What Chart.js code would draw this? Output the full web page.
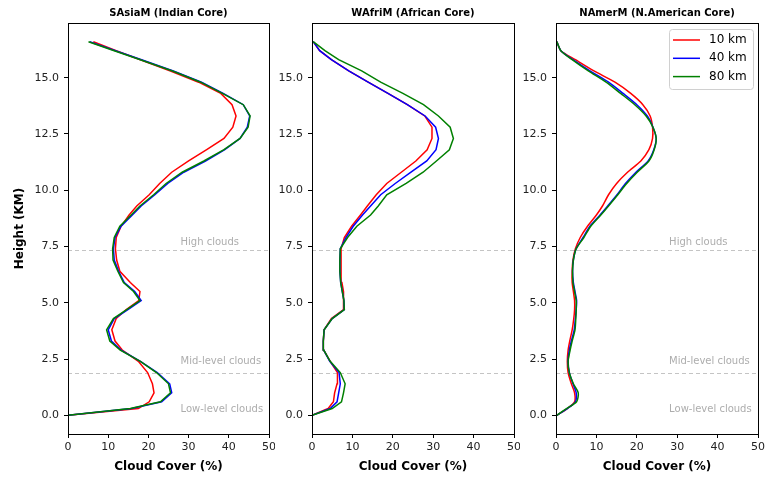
<!DOCTYPE html>
<html>
<head>
<meta charset="utf-8">
<script src="https://cdn.jsdelivr.net/npm/chart.js@4"></script>
<style>
  body { margin: 0; background: #fff; }
  .panel { position: absolute; top: 0; height: 479px; }
</style>
</head>
<body>
<div class="panel" style="left:0;width:275px"><canvas id="c1"></canvas></div>
<div class="panel" style="left:270px;width:250px"><canvas id="c2"></canvas></div>
<div class="panel" style="left:514px;width:251px"><canvas id="c3"></canvas></div>
<script>
// heights (km) shared by every profile
const heights = [0, 0.3, 0.6, 1.0, 1.4, 1.9, 2.4, 2.9, 3.3, 3.8, 4.3, 4.7, 5.1, 5.5, 5.9, 6.4, 6.9, 7.4, 7.9, 8.4,
  8.9, 9.3, 9.8, 10.3, 10.8, 11.3, 11.8, 12.3, 12.8, 13.3, 13.8, 14.3, 14.8, 15.3, 15.8, 16.2, 16.6];

const seriesNames = ['10 km', '40 km', '80 km'];

// SAsiaM (Indian Core)
const sasiaRed = [0, 17.5, 20.2, 21.4, 21.0, 19.8, 17.5, 13.5, 11.7, 10.9, 12.0, 14.5, 17.6, 17.9, 15.5, 12.9, 12.1, 11.8, 12.0, 13.2,
  15.2, 17.1, 20.2, 22.8, 25.8, 30.0, 34.5, 38.8, 41.0, 41.8, 40.8, 38.0, 32.5, 25.5, 18.0, 12.0, 6.3];
const sasiaBlue = [0, 15.8, 23.3, 25.8, 25.3, 22.2, 18.0, 13.2, 10.8, 10.0, 11.5, 14.9, 18.2, 16.6, 14.0, 12.6, 11.5, 11.3, 11.7, 13.2,
  16.0, 18.2, 21.6, 24.8, 28.8, 34.2, 39.0, 42.8, 44.6, 45.2, 43.6, 38.6, 33.2, 26.2, 18.3, 11.8, 5.4];
const sasiaGreen = [0, 15.5, 23.0, 25.5, 25.0, 22.0, 18.0, 13.0, 10.4, 9.6, 11.3, 14.6, 17.9, 16.3, 13.8, 12.4, 11.2, 11.1, 11.5, 12.9,
  15.7, 17.9, 21.3, 24.4, 28.4, 33.8, 38.8, 42.8, 44.8, 45.3, 43.6, 38.4, 33.0, 26.0, 18.0, 11.5, 5.1];

// WAfriM (African Core)
const wafriRed = [0, 4.0, 5.3, 5.6, 6.2, 6.3, 4.5, 2.9, 2.8, 3.0, 4.8, 7.8, 7.9, 7.7, 7.4, 7.2, 7.2, 7.2, 8.0, 9.8,
  12.0, 13.7, 15.9, 18.5, 22.1, 25.7, 28.5, 29.7, 29.7, 27.9, 23.6, 18.8, 13.9, 9.1, 4.8, 1.9, 0.3];
const wafriBlue = [0, 4.5, 6.2, 6.6, 7.0, 6.7, 4.4, 2.9, 2.8, 3.0, 5.0, 8.0, 7.9, 7.5, 7.1, 6.9, 6.9, 7.0, 8.4, 10.2,
  12.5, 14.5, 17.0, 20.6, 24.5, 28.4, 30.7, 31.3, 30.6, 28.0, 23.6, 18.8, 13.9, 9.1, 4.8, 1.9, 0.3];
const wafriGreen = [0, 5.0, 7.3, 7.8, 8.2, 7.0, 4.5, 2.9, 2.8, 3.0, 5.0, 8.0, 7.9, 7.5, 7.1, 6.9, 6.9, 7.0, 8.8, 11.1,
  14.5, 16.4, 18.5, 23.3, 27.5, 30.8, 34.0, 35.0, 34.2, 31.3, 27.6, 22.5, 17.0, 12.3, 6.6, 3.2, 0.3];

// NAmerM (N.American Core)
const namerRed = [0.2, 2.8, 4.6, 4.6, 3.8, 3.0, 2.8, 3.0, 3.4, 4.0, 4.4, 4.6, 4.6, 4.3, 4.0, 4.0, 4.2, 4.8, 6.0, 7.8,
  10.0, 11.5, 13.0, 15.0, 17.7, 21.0, 23.0, 23.9, 23.9, 23.3, 21.5, 18.5, 14.6, 9.4, 4.8, 1.2, 0.2];
const namerBlue = [0.2, 2.8, 4.8, 5.0, 4.2, 3.3, 3.0, 3.3, 3.8, 4.5, 4.8, 5.0, 5.1, 4.7, 4.3, 4.1, 4.3, 5.0, 6.7, 8.4,
  10.9, 12.8, 15.1, 17.2, 19.8, 22.8, 24.2, 24.8, 24.0, 22.6, 20.0, 16.6, 13.0, 8.4, 4.2, 1.2, 0.2];
const namerGreen = [0.2, 2.6, 5.1, 5.5, 4.3, 3.3, 3.0, 3.5, 4.0, 4.7, 4.9, 5.0, 5.0, 4.6, 4.2, 4.1, 4.3, 5.0, 6.9, 8.6,
  11.1, 13.0, 15.3, 17.5, 20.1, 23.0, 24.3, 24.8, 24.0, 22.3, 19.5, 16.0, 12.4, 8.0, 4.0, 1.2, 0.2];

// cloud layer boundaries and their labels
const layerBounds = [7.35, 1.9];
const layerLabels = ['High clouds', 'Mid-level clouds', 'Low-level clouds'];
const layerLabelHeights = [7.7, 2.4, 0.27];
const layerLabelX = 28;

const xTicks = { min: 0, max: 50, step: 10 };
const yRange = { min: -0.83, max: 17.43, step: 2.5 };

const colors = ['#ff0000', '#0000ff', '#008000'];
const tickFont = { family: 'DejaVu Sans', size: 11 };
const labelFont = { family: 'DejaVu Sans', size: 12, weight: 'bold' };

const panelDecor = {
  id: 'panelDecor',
  beforeDatasetsDraw(chart) {
    const { ctx, chartArea: a, scales: { x, y } } = chart;
    ctx.save();
    ctx.strokeStyle = '#c4c4c4';
    ctx.lineWidth = 1;
    ctx.setLineDash([4, 3]);
    layerBounds.forEach(h => {
      const py = Math.round(y.getPixelForValue(h)) + 0.5;
      ctx.beginPath();
      ctx.moveTo(a.left, py);
      ctx.lineTo(a.right, py);
      ctx.stroke();
    });
    ctx.setLineDash([]);
    if (chart.options.plugins.panelDecor.cloudLabels) {
      ctx.fillStyle = '#adadad';
      ctx.font = '10px "DejaVu Sans"';
      ctx.textBaseline = 'middle';
      ctx.textAlign = 'left';
      layerLabels.forEach((t, i) => {
        ctx.fillText(t, x.getPixelForValue(layerLabelX), y.getPixelForValue(layerLabelHeights[i]));
      });
    }
    ctx.restore();
  },
  afterDraw(chart, args, opts) {
    const { ctx, chartArea: a } = chart;
    ctx.save();
    ctx.strokeStyle = '#000';
    ctx.lineWidth = 1;
    ctx.strokeRect(Math.round(a.left) + 0.5, Math.round(a.top) + 0.5,
      Math.round(a.right - a.left), Math.round(a.bottom - a.top));
    // title
    ctx.fillStyle = '#000';
    ctx.font = 'bold 10px "DejaVu Sans"';
    ctx.textAlign = 'center';
    ctx.textBaseline = 'middle';
    ctx.fillText(opts.title, (a.left + a.right) / 2, 13);
    // legend inside the axes
    if (opts.legend) {
      const bx = a.right - 89, by = a.top + 6, bw = 84, bh = 60;
      ctx.fillStyle = 'rgba(255,255,255,0.8)';
      ctx.strokeStyle = '#d0d0d0';
      ctx.beginPath();
      ctx.roundRect(bx + 0.5, by + 0.5, bw, bh, 3);
      ctx.fill();
      ctx.stroke();
      ctx.font = '12px "DejaVu Sans"';
      ctx.textAlign = 'left';
      chart.data.datasets.forEach((ds, i) => {
        const ry = by + 11 + i * 18.3;
        ctx.strokeStyle = ds.borderColor;
        ctx.lineWidth = 1.5;
        ctx.beginPath();
        ctx.moveTo(bx + 4, ry);
        ctx.lineTo(bx + 31, ry);
        ctx.stroke();
        ctx.fillStyle = '#000';
        ctx.fillText(ds.label, bx + 40, ry);
      });
    }
    ctx.restore();
  }
};

function makePanel(id, title, series, opts) {
  const datasets = series.map((vals, i) => ({
    label: seriesNames[i],
    data: heights.map((h, j) => ({ x: vals[j], y: h })),
    borderColor: colors[i],
    backgroundColor: colors[i],
    borderWidth: 1.5,
    pointRadius: 0,
    showLine: true,
    order: series.length - i,   // later series drawn on top, like matplotlib
    tension: opts.tension || 0
  }));

  new Chart(document.getElementById(id), {
    type: 'scatter',
    data: { datasets },
    options: {
      responsive: true,
      maintainAspectRatio: false,
      animation: false,
      layout: { padding: { top: 23, right: opts.right, bottom: 0, left: 0 } },
      plugins: {
        legend: { display: false },
        tooltip: { enabled: false },
        panelDecor: { title: title, legend: !!opts.legend, cloudLabels: !!opts.cloudLabels }
      },
      scales: {
        x: {
          type: 'linear',
          min: xTicks.min,
          max: xTicks.max,
          afterFit(s) { s.height = 45; s.paddingLeft = 0; s.paddingRight = 0; },
          ticks: { stepSize: xTicks.step, font: tickFont, color: '#222', padding: 3, maxRotation: 0 },
          grid: { drawOnChartArea: false, tickLength: 4, color: '#000' },
          border: { color: '#000' },
          title: { display: true, text: 'Cloud Cover (%)', font: labelFont, color: '#000', padding: { top: 0, bottom: 5 } }
        },
        y: {
          type: 'linear',
          min: yRange.min,
          max: yRange.max,
          afterFit(s) { s.width = opts.yWidth; s.paddingTop = 0; s.paddingBottom = 0; },
          ticks: {
            stepSize: yRange.step,
            includeBounds: false,
            font: tickFont,
            color: '#222',
            padding: 5,
            callback: v => v.toFixed(1)
          },
          grid: { drawOnChartArea: false, tickLength: 4, color: '#000' },
          border: { color: '#000' },
          title: { display: !!opts.yTitle, text: 'Height (KM)', font: labelFont, color: '#000', padding: { top: 13, bottom: 0 } }
        }
      }
    },
    plugins: [panelDecor]
  });
}

makePanel('c1', 'SAsiaM (Indian Core)', [sasiaRed, sasiaBlue, sasiaGreen],
  { yWidth: 68, right: 6, yTitle: true, cloudLabels: true });
makePanel('c2', 'WAfriM (African Core)', [wafriRed, wafriBlue, wafriGreen],
  { yWidth: 42, right: 6 });
makePanel('c3', 'NAmerM (N.American Core)', [namerRed, namerBlue, namerGreen],
  { yWidth: 42, right: 7, legend: true, cloudLabels: true, tension: 0.25 });
</script>
</body>
</html>
